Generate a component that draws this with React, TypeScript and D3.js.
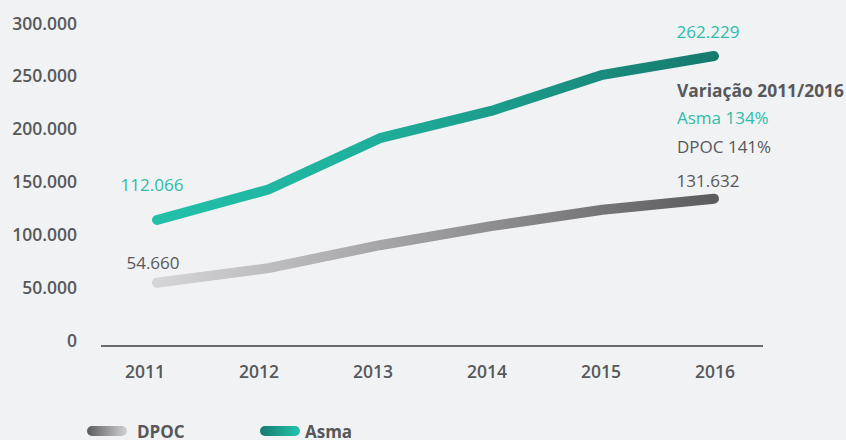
import React from "react";
import * as d3 from "d3";

const years = ["2011", "2012", "2013", "2014", "2015", "2016"];
const asma = [112066, 140000, 187000, 212000, 245000, 262229];
const dpoc = [54660, 68000, 89000, 106500, 121500, 131632];
const yTicks = [0, 50000, 100000, 150000, 200000, 250000, 300000];
const variationTitle = "Variação 2011/2016";
const asmaVar = "Asma 134%";
const dpocVar = "DPOC 141%";

const W = 846;
const H = 440;
const FONT = "'Open Sans', 'Noto Sans', sans-serif";
const fmt = (v: number) => d3.format(",")(v).replace(/,/g, ".");

export default function App() {
  const xData = d3.scalePoint<string>().domain(years).range([157, 714]);
  const xLabel = d3.scalePoint<string>().domain(years).range([145, 715]);
  const yData = d3.scaleLinear().domain([0, 300000]).range([342.4, 14.8]);
  const yLabel = d3.scaleLinear().domain([0, 300000]).range([347, 29.5]);

  const line = d3
    .line<number>()
    .x((_, i) => xData(years[i]) as number)
    .y((d) => yData(d));

  const last = years.length - 1;

  return (
    <svg
      width={W}
      height={H}
      style={{ position: "absolute", left: 0, top: 0, background: "#f1f2f4" }}
      fontFamily={FONT}
    >
      <defs>
        <linearGradient id="gAsma" gradientUnits="userSpaceOnUse" x1={157} x2={714} y1={0} y2={0}>
          <stop offset="0" stopColor="#22c0a9" />
          <stop offset="0.4" stopColor="#1eae9a" />
          <stop offset="1" stopColor="#167a6f" />
        </linearGradient>
        <linearGradient id="gDpoc" gradientUnits="userSpaceOnUse" x1={157} x2={714} y1={0} y2={0}>
          <stop offset="0" stopColor="#d5d5d7" />
          <stop offset="0.5" stopColor="#9a9a9d" />
          <stop offset="1" stopColor="#5c5c5f" />
        </linearGradient>
        <linearGradient id="lDpoc" x1="0" x2="1" y1="0" y2="0">
          <stop offset="0" stopColor="#5c5c5f" />
          <stop offset="1" stopColor="#d2d2d4" />
        </linearGradient>
        <linearGradient id="lAsma" x1="0" x2="1" y1="0" y2="0">
          <stop offset="0" stopColor="#167a6f" />
          <stop offset="1" stopColor="#25c4ad" />
        </linearGradient>
      </defs>

      {yTicks.map((t) => (
        <text
          key={t}
          x={77}
          y={yLabel(t)}
          textAnchor="end"
          fontSize={17.5}
          fontWeight={600}
          fill="#58585a"
        >
          {fmt(t)}
        </text>
      ))}

      <line x1={101} x2={763} y1={346} y2={346} stroke="#6a6a6c" strokeWidth={2} />

      {years.map((yr) => (
        <text
          key={yr}
          x={xLabel(yr)}
          y={378}
          textAnchor="middle"
          fontSize={17.5}
          fontWeight={600}
          fill="#58585a"
        >
          {yr}
        </text>
      ))}

      <path
        d={line(dpoc) || ""}
        fill="none"
        stroke="url(#gDpoc)"
        strokeWidth={10}
        strokeLinecap="round"
        strokeLinejoin="round"
      />
      <path
        d={line(asma) || ""}
        fill="none"
        stroke="url(#gAsma)"
        strokeWidth={10}
        strokeLinecap="round"
        strokeLinejoin="round"
      />

      <text x={152} y={191} textAnchor="middle" fontSize={17} fill="#2bbda8">
        {fmt(asma[0])}
      </text>
      <text x={153} y={269} textAnchor="middle" fontSize={17} fill="#58585a">
        {fmt(dpoc[0])}
      </text>
      <text x={708} y={38} textAnchor="middle" fontSize={17} fill="#2bbda8">
        {fmt(asma[last])}
      </text>
      <text x={708} y={187} textAnchor="middle" fontSize={17} fill="#58585a">
        {fmt(dpoc[last])}
      </text>

      <text x={677} y={97} fontSize={17.4} fontWeight={700} fill="#58585a">
        {variationTitle}
      </text>
      <text x={677} y={124} fontSize={17} fill="#2bbda8">
        {asmaVar}
      </text>
      <text x={677} y={153} fontSize={17} fill="#58585a">
        {dpocVar}
      </text>

      <rect x={87} y={426} width={40} height={10} rx={5} fill="url(#lDpoc)" />
      <text x={137} y={438} fontSize={17} fontWeight={700} fill="#58585a">
        DPOC
      </text>
      <rect x={260} y={426} width={40} height={10} rx={5} fill="url(#lAsma)" />
      <text x={305} y={438} fontSize={17} fontWeight={700} fill="#58585a">
        Asma
      </text>
    </svg>
  );
}
